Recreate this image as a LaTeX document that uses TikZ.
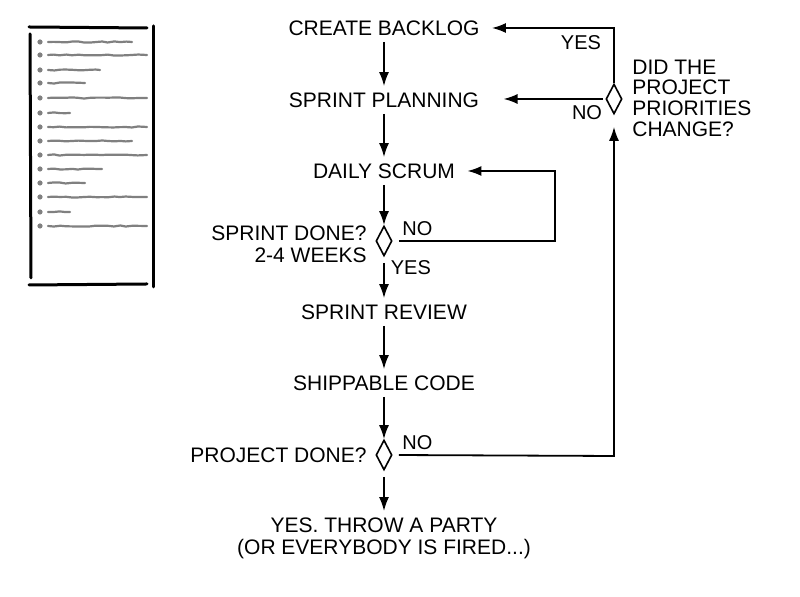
\documentclass[tikz,border=0pt]{standalone}
\usepackage{fontspec}
\setmainfont{Liberation Sans}
\usetikzlibrary{arrows.meta, decorations.pathmorphing, shapes.geometric, calc, positioning}
\tikzset{
    stepText/.style={font=\fontsize{10.5}{11}\selectfont, inner sep=3pt, align=center},
    sideText/.style={font=\fontsize{10.5}{10.3}\selectfont, inner sep=2pt},
    answer/.style={font=\fontsize{10}{10}\selectfont, inner sep=1pt},
    decision/.style={diamond, draw, line width=0.8pt, inner sep=0pt, minimum width=8pt, minimum height=15pt},
    flowEdge/.style={-{Latex[length=7pt, width=5pt]}, line width=0.9pt},
    docBorder/.style={line width=1.5pt, line cap=round},
    docLine/.style={gray, line width=1.1pt, line cap=round, decorate, decoration={random steps, segment length=3pt, amplitude=0.3pt}},
}
\newcommand{\flowStep}[3]{
    \node[stepText] (#1) at (#2) {#3};
}
\newcommand{\docBullet}[2]{
    \fill[gray] (40, #1) circle[radius=1.3pt];
    \draw[docLine] (48, #1) -- (#2, #1);
}

\begin{document}
\begin{tikzpicture}[x=0.5pt, y=-0.5pt]

        \useasboundingbox (0,0) rectangle (800,597);

        % the backlog sheet
        \draw[docBorder] (29,27) -- (147,28);
        \draw[docBorder] (30,34) -- (31,278);
        \draw[docBorder] (29,285) -- (147,284);
        \draw[docBorder] (153,26) -- (153,287);
        \foreach \y/\e in {42/132, 55/147, 70/100, 83/85, 98/147, 113/70, 127/147,
                           141/132, 155/147, 169/102, 183/85, 197/147, 212/70, 226/147}
            {\docBullet{\y}{\e}}

        \flowStep{backlog}{384,28}{CREATE BACKLOG}
        \flowStep{planning}{384,100}{SPRINT PLANNING}
        \flowStep{scrum}{384,171}{DAILY SCRUM}
        \node[decision] (sprintq) at (384,241) {};
        \node[stepText, anchor=east, align=right] (sprintlbl) at (373,244) {SPRINT DONE?\\2-4 WEEKS};
        \flowStep{review}{384,312}{SPRINT REVIEW}
        \flowStep{code}{384,383}{SHIPPABLE CODE}
        \node[decision] (projectq) at (384,455) {};
        \node[stepText, anchor=east] (projectlbl) at (373,455) {PROJECT DONE?};
        \flowStep{party}{384,538}{YES. THROW A PARTY\\(OR EVERYBODY IS FIRED...)}
        \node[decision] (prioq) at (614,99) {};
        \node[sideText, anchor=west, align=left] (priolbl) at (628,98) {DID THE\\PROJECT\\PRIORITIES\\CHANGE?};

        \coordinate (loopR) at (555,241);
        \coordinate (backR) at (614,456);

        \draw[flowEdge] (backlog) -- (planning);
        \draw[flowEdge] (planning) -- (scrum);
        \draw[flowEdge] (scrum) -- (sprintq);
        \draw[flowEdge, shorten <=3pt] (sprintq) -- node[answer, right=2pt, pos=0.25] (sprintyes) {YES} (review);
        \draw[flowEdge] (review) -- (code);
        \draw[flowEdge] (code) -- (projectq);
        \draw[flowEdge, shorten <=3pt] (projectq) -- (party);

        \draw[flowEdge, shorten <=3pt, shorten >=3pt] (sprintq.east) -- (loopR) |- (scrum.east);
        \node[answer, anchor=south west] (sprintno) at (400,238) {NO};

        \draw[flowEdge, shorten <=3pt, shorten >=6pt] (projectq.east) -- (backR) -- (prioq.south);
        \node[answer, anchor=south west] (projectno) at (400,452) {NO};

        \draw[flowEdge, shorten >=3pt] (prioq.north) |- (backlog.east);
        \node[answer] (prioyes) at (581,43) {YES};
        \draw[flowEdge, shorten <=1pt, shorten >=9pt] (prioq.west) -- (prioq.west -| planning.east);
        \node[answer] (priono) at (587,113) {NO};

    \end{tikzpicture}
\end{document}
